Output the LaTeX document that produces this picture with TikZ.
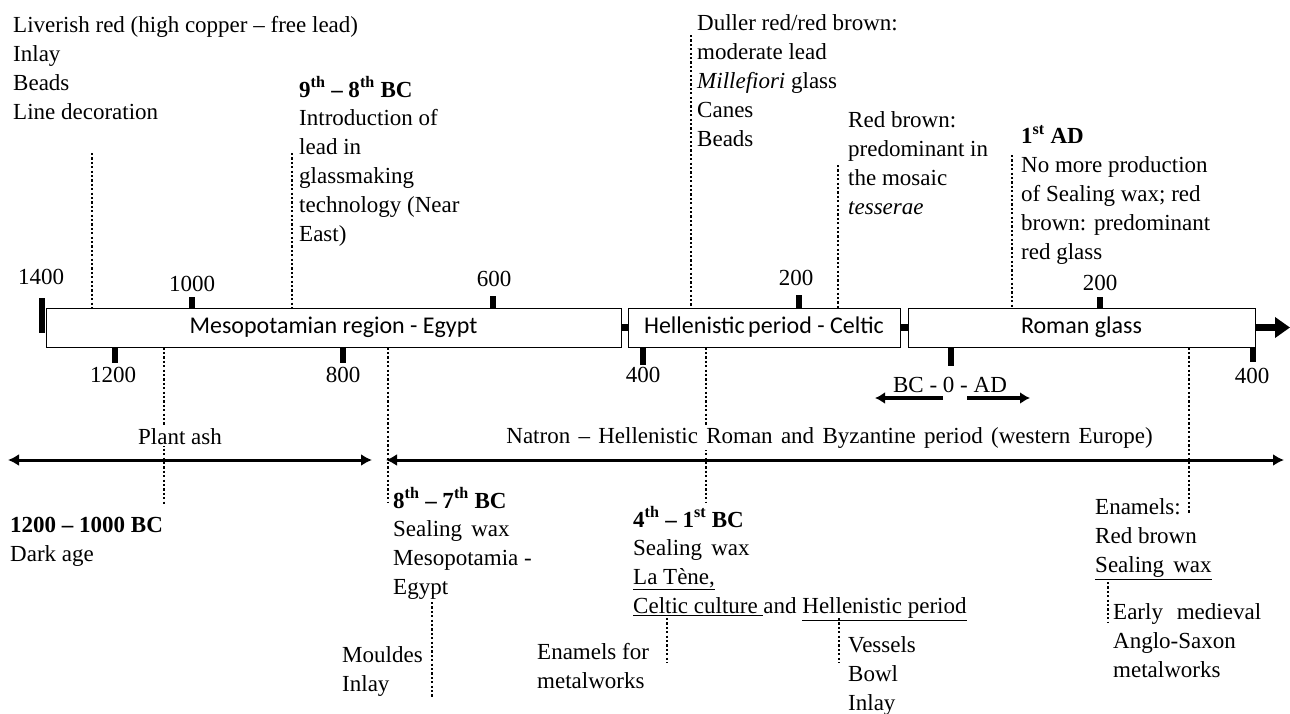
\documentclass[tikz,border=0pt]{standalone}
\usepackage{fontspec}
\setmainfont{Liberation Serif}
\newfontfamily\boxfont{Carlito}
\usetikzlibrary{arrows.meta}
\newcommand{\topstrut}{\rule{0pt}{18pt}}
\begin{document}
\begin{tikzpicture}[x=1pt,y=-1pt,
  txt/.style={font=\fontsize{23}{28.8}\selectfont, inner sep=0pt, align=left, anchor=north west},
  num/.style={font=\fontsize{23}{28.8}\selectfont, inner sep=0pt},
  period/.style={draw, line width=1pt, fill=white, font=\boxfont\fontsize{24}{28}\selectfont, minimum height=39pt, inner sep=0pt},
  tickmark/.style={line width=5.5pt},
  dotline/.style={line width=2.2pt, dash pattern=on 2.2pt off 2.2pt},
  span/.style={line width=3pt, {Latex[length=11pt,width=12pt]}-{Latex[length=11pt,width=12pt]}},
  link/.style={line width=7pt},
  eraback/.style={line width=4pt, -{Latex[length=10pt,width=12pt]}},
]
\useasboundingbox (0,0) rectangle (1290,713);

% ticks of the time axis
\draw[line width=6.5pt] (42,298) -- (42,333);
\draw[tickmark] (192,297) -- (192,309);
\draw[tickmark] (493,296) -- (493,309);
\draw[tickmark] (799,295) -- (799,309);
\draw[tickmark] (1100,297) -- (1100,309);
\draw[tickmark] (115,346) -- (115,363);
\draw[tickmark] (343,346) -- (343,363);
\draw[tickmark] (643,346) -- (643,365);
\draw[tickmark] (951,346) -- (951,366);
\draw[tickmark] (1253,346) -- (1253,362);

% period boxes
\node[period, minimum width=575pt] (box1) at (333.5,327.5) {Mesopotamian region - Egypt};
\node[period, minimum width=272pt] (box2) at (764,327.5) {Hellenistic\hspace{0.15em}period - Celtic};
\node[period, minimum width=347pt] (box3) at (1081.5,327.5) {Roman glass};
\draw[link] (box1.east) -- (box2.west);
\draw[link] (box2.east) -- (box3.west);
\coordinate (axisend) at (1290,327.5);
\draw[line width=7pt, -{Triangle[length=15pt,width=20pt]}] (box3.east) -- (axisend);

% tick labels
\node[num] (n1400) at (41,277) {1400};
\node[num] (n1000) at (192,284) {1000};
\node[num] (n600) at (494,279) {600};
\node[num] (n200a) at (796,278) {200};
\node[num] (n200b) at (1100,283) {200};
\node[num] (n1200) at (113,375) {1200};
\node[num] (n800) at (343,375) {800};
\node[num] (n400a) at (643,375) {400};
\node[num] (n400b) at (1252,376) {400};

% BC - 0 - AD
\node[num, anchor=base] (era) at (950,392) {BC - 0 - AD};
\coordinate (bcs) at (943,398); \coordinate (bce) at (875,398);
\coordinate (ads) at (967,398); \coordinate (ade) at (1030,398);
\draw[eraback] (bcs) -- (bce);
\draw[eraback] (ads) -- (ade);

% upper texts
\node[txt] (liv) at (13,14.6) {\topstrut Liverish red (high copper – free lead)\\Inlay\\Beads\\Line decoration};
\node[txt] (lead) at (299,76.6) {\topstrut\textbf{9\textsuperscript{th} – 8\textsuperscript{th} BC}\\Introduction of\\lead in\\glassmaking\\technology (Near\\East)};
\node[txt] (dull) at (697,12.6) {\topstrut Duller red/red brown:\\moderate lead\\\textit{Millefiori} glass\\Canes\\Beads};
\node[txt] (redb) at (848,109.6) {\topstrut Red brown:\\predominant in\\the mosaic\\\textit{tesserae}};
\node[txt] (ad1) at (1021,125.6) {\topstrut\textbf{1\textsuperscript{st} AD}\\No more production\\of Sealing wax; red\\brown: predominant\\red glass};

% upper dotted connectors
\coordinate (u1) at (92,153);   \draw[dotline] (u1) -- (u1 |- box1.north);
\coordinate (u2) at (292,153);  \draw[dotline] (u2) -- (u2 |- box1.north);
\coordinate (u3) at (691,35);   \draw[dotline] (u3) -- (u3 |- box2.north);
\coordinate (u4) at (838,165);  \draw[dotline] (u4) -- (u4 |- box2.north);
\coordinate (u5) at (1012,155); \draw[dotline] (u5) -- (u5 |- box3.north);

% lower dotted connectors
\coordinate (l1) at (164,505);  \draw[dotline] (l1 |- box1.south) -- (l1);
\coordinate (l2) at (388,502);  \draw[dotline] (l2 |- box1.south) -- (l2);
\coordinate (l3) at (706,502);  \draw[dotline] (l3 |- box2.south) -- (l3);
\coordinate (l4) at (1189,513); \draw[dotline] (l4 |- box3.south) -- (l4);

% glass type spans
\coordinate (pa1) at (8,460);   \coordinate (pa2) at (372,460);
\coordinate (na1) at (386,460); \coordinate (na2) at (1284,460);
\draw[span] (pa1) -- (pa2);
\draw[span] (na1) -- (na2);
\node[num, anchor=base, fill=white, inner sep=2pt] (plant) at (180,444) {Plant ash};
\node[num, anchor=base, fill=white, inner sep=2pt] (natron) at (829.5,443) {\spaceskip=0.36em Natron – Hellenistic Roman and Byzantine period (western Europe)};

% lower texts
\node[txt] (dark) at (10,514.6) {\topstrut\textbf{1200 – 1000 BC}\\Dark age};
\node[txt] (seal1) at (393,487.6) {\topstrut\textbf{8\textsuperscript{th} – 7\textsuperscript{th} BC}\\Sealing\hspace{0.4em}wax\\Mesopotamia -\\Egypt};
\node[txt] (mould) at (342,644.6) {\topstrut Mouldes\\Inlay};
\node[txt] (seal2) at (633,506.6) {\topstrut\textbf{4\textsuperscript{th} – 1\textsuperscript{st} BC}\\Sealing\hspace{0.4em}wax\\\underline{La Tène,}\\\underline{Celtic culture\ }and \underline{Hellenistic period}};
\node[txt] (enam1) at (537,641.6) {\topstrut Enamels for\\metalworks};
\node[txt] (vess) at (848,634.6) {\topstrut Vessels\\Bowl\\Inlay};
\node[txt] (enam2) at (1095,496.6) {\topstrut Enamels:\\Red brown\\\underline{Sealing\hspace{0.4em}wax}};
\node[txt] (early) at (1113,601.6) {\topstrut Early\hspace{0.6em}medieval\\Anglo-Saxon\\metalworks};

% sub dotted connectors
\coordinate (s1a) at (432,602); \coordinate (s1b) at (432,698); \draw[dotline] (s1a) -- (s1b);
\coordinate (s2a) at (667,618); \coordinate (s2b) at (667,663); \draw[dotline] (s2a) -- (s2b);
\coordinate (s3a) at (839,618); \coordinate (s3b) at (839,663); \draw[dotline] (s3a) -- (s3b);
\coordinate (s4a) at (1108,582); \coordinate (s4b) at (1108,623); \draw[dotline] (s4a) -- (s4b);
\end{tikzpicture}
\end{document}
